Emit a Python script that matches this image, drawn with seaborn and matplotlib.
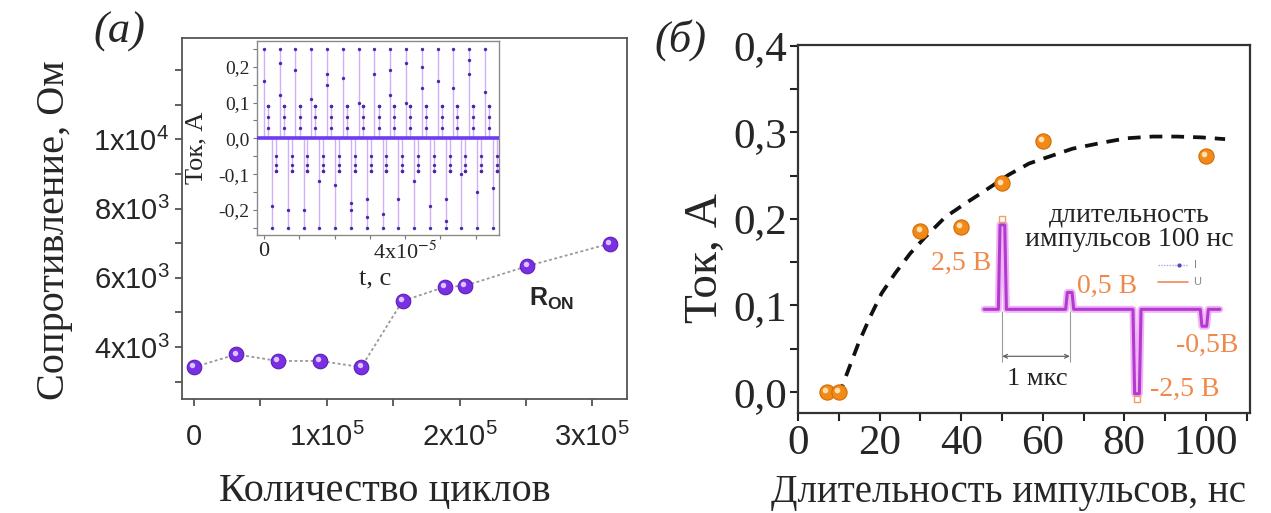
import matplotlib
matplotlib.use("Agg")
import matplotlib.pyplot as plt
import matplotlib.transforms as mtransforms
from matplotlib.ticker import FixedLocator, MultipleLocator
import pandas as pd
import seaborn as sns

# ---------------- panel (а): ON-state resistance vs. number of cycles
cycles = [0, 32000, 63000, 95000, 126000, 157000, 189000, 204000, 251000, 313000]
r_on = [3420, 3790, 3600, 3600, 3420, 5330, 5740, 5770, 6340, 6990]

a_xticks = [0, 1e5, 2e5, 3e5]
a_xticklabels = ["0", "1x10$^5$", "2x10$^5$", "3x10$^5$"]
a_yticks = [4e3, 6e3, 8e3, 1e4]
a_yticklabels = ["4x10$^3$", "6x10$^3$", "8x10$^3$", "1x10$^4$"]

# inset of (а): current response to the pulse trains
cycle_start_us = [0.0, 4.5, 8.9, 13.4, 17.9, 22.4, 26.8, 31.3, 35.8, 40.2,
                  44.7, 49.2, 53.6, 58.1, 62.6]
pulse_offset_us = [0.0, 1.15, 2.3, 3.4]          # +2,5 В, +0,5 В, -2,5 В, -0,5 В
pulse_peak_A = [0.25, 0.09, -0.25, -0.09]
set_mid_A = [[0.16], [0.21, 0.12], [0.19], [0.11], [0.18, 0.15], [0.17], [0.10],
             [0.18], [0.19, 0.12], [0.21, 0.10], [0.20, 0.14], [0.16], [0.14],
             [0.22, 0.18], [0.13]]
reset_mid_A = [[-0.19], [-0.20], [-0.20], [-0.12], [-0.13], [-0.18, -0.20],
               [-0.17, -0.22], [-0.21], [-0.17], [-0.12], [-0.19], [-0.17, -0.23],
               [-0.10], [-0.15], [-0.14]]
small_set_A = [0.09, 0.06, 0.03]
small_reset_A = [-0.05, -0.075, -0.09]
baseline_A = 0.0
inset_xticks = [0, 4e-5]
inset_xticklabels = ["0", "4x10$^{-5}$"]
inset_yticks = [-0.2, -0.1, 0.0, 0.1, 0.2]
inset_yticklabels = ["-0,2", "-0,1", "0,0", "0,1", "0,2"]

# ---------------- panel (б): current vs. pulse duration
pulse_ns = [7, 10, 30, 40, 50, 60, 100]
current_A = [0.0, 0.0, 0.186, 0.191, 0.241, 0.290, 0.273]
fit_ns = [9.9, 12.3, 14.8, 17.7, 20.5, 23.8, 27.5, 31.2, 36.1, 41.1, 46.0, 51.7,
          56.7, 67.3, 74.7, 80.5, 87.0, 92.8, 99.0, 104.7]
fit_A = [-0.005, 0.025, 0.056, 0.087, 0.114, 0.137, 0.160, 0.179, 0.202, 0.218,
         0.233, 0.251, 0.264, 0.281, 0.288, 0.293, 0.295, 0.295, 0.294, 0.292]
b_xticks = [0, 20, 40, 60, 80, 100]
b_yticks = [0.0, 0.1, 0.2, 0.3, 0.4]
b_yticklabels = ["0,0", "0,1", "0,2", "0,3", "0,4"]

# pulse program sketch
prog_t_us = [0.0, 1.0, 2.0, 3.0]
prog_V = [2.5, 0.5, -2.5, -0.5]
prog_labels = ["2,5 В", "0,5 В", "-2,5 В", "-0,5В"]
prog_label_pos = [(-0.62, 1.36), (1.56, 0.69), (2.71, -2.37), (3.05, -1.08)]

# ---------------- styling
sns.set_style("ticks")
plt.rcParams.update({
    "font.family": ["Liberation Serif", "DejaVu Serif"],
    "mathtext.fontset": "custom",
    "mathtext.rm": "Liberation Sans",
    "mathtext.it": "Liberation Sans:italic",
    "mathtext.bf": "Liberation Sans:bold",
    "axes.unicode_minus": False,
})
SANS = ["Liberation Sans", "DejaVu Sans"]
SERIF = ["Liberation Serif", "DejaVu Serif"]
PURPLE = "#7b2fe3"
ORANGE = "#f28a1a"
LABEL_ORANGE = "#f0884a"

fig = plt.figure(figsize=(12.71, 5.13), dpi=100)


def spheres(ax, x, y, base, edge, shine, s):
    sns.scatterplot(x=x, y=y, ax=ax, s=s, color=base, edgecolor=edge,
                    linewidth=0.8, zorder=5, legend=False)
    tr = mtransforms.offset_copy(ax.transData, fig=fig, x=-1.8, y=1.8, units="dots")
    ax.scatter(x, y, s=s * 0.14, color=shine, linewidth=0, zorder=6, transform=tr)


# ======================= panel (а)
ax_a = fig.add_axes([182 / 1271, 1 - 399 / 513, 445 / 1271, 361 / 513])
sns.lineplot(x=cycles, y=r_on, ax=ax_a, color="#9a9a9a", lw=1.3,
             linestyle=(0, (1.6, 1.4)), sort=False, estimator=None, zorder=3)
spheres(ax_a, cycles, r_on, PURPLE, "#5a1db8", "#d9c4ff", 110)
ax_a.set_xlim(-9000, 3.26e5)
ax_a.set_ylim(2500, 12930)
ax_a.xaxis.set_major_locator(FixedLocator(a_xticks))
ax_a.set_xticklabels(a_xticklabels)
ax_a.xaxis.set_minor_locator(MultipleLocator(5e4))
ax_a.yaxis.set_major_locator(FixedLocator(a_yticks))
ax_a.set_yticklabels(a_yticklabels)
ax_a.yaxis.set_minor_locator(MultipleLocator(1e3))
for lbl in ax_a.get_xticklabels() + ax_a.get_yticklabels():
    lbl.set_fontfamily(SANS)
    lbl.set_fontsize(21)
ax_a.tick_params(which="both", direction="out", length=5, width=1.2,
                 color="#444444")
ax_a.tick_params(axis="x", pad=12)
ax_a.tick_params(axis="y", pad=4)
for sp in ax_a.spines.values():
    sp.set_visible(True)
    sp.set_color("#555555")
    sp.set_linewidth(1.3)
ax_a.set_xlabel("Количество циклов", fontsize=29, family=SERIF)
ax_a.set_ylabel("Сопротивление, Ом", fontsize=29, family=SERIF)
ax_a.xaxis.set_label_coords(0.456, -0.205)
ax_a.yaxis.set_label_coords(-0.245, 0.468)
ax_a.text(2.69e5, 5400, r"$\mathbf{R}_{\mathbf{ON}}$", fontsize=18,
          ha="center", va="center")
fig.text(119 / 1271, 1 - 32 / 513, "(а)", fontsize=32, style="italic",
         family=SERIF, ha="center", va="center")

# ----- inset of (а)
ax_i = fig.add_axes([256.7 / 1271, 1 - 235 / 513, 242.3 / 1271, 194 / 513])
ax_i.set_facecolor("white")
rows = []
lines_t, lines_top = [], []
for k, t0 in enumerate(cycle_start_us):
    mids = [set_mid_A[k], small_set_A, reset_mid_A[k], small_reset_A]
    for off, peak, extra in zip(pulse_offset_us, pulse_peak_A, mids):
        t = (t0 + off) * 1e-6
        lines_t.append(t)
        lines_top.append(peak)
        rows.append((t, peak))
        rows.extend((t, v) for v in extra)
samples = pd.DataFrame(rows, columns=["t", "I"])
ax_i.vlines(lines_t, baseline_A, lines_top, color="#cdb2f7", lw=1.0, zorder=2)
ax_i.axhline(baseline_A, color="#6c3cf0", lw=2.6, zorder=3)
sns.scatterplot(data=samples, x="t", y="I", ax=ax_i, s=6, color="#4b2aa8",
                linewidth=0, zorder=4, legend=False)
ax_i.set_xlim(-0.21e-5, 6.66e-5)
ax_i.set_ylim(-0.27, 0.272)
ax_i.xaxis.set_major_locator(FixedLocator(inset_xticks))
ax_i.set_xticklabels(inset_xticklabels, math_fontfamily="stix")
ax_i.xaxis.set_minor_locator(MultipleLocator(1e-5))
ax_i.yaxis.set_major_locator(FixedLocator(inset_yticks))
ax_i.set_yticklabels(inset_yticklabels)
ax_i.yaxis.set_minor_locator(MultipleLocator(0.05))
for lbl in ax_i.get_xticklabels():
    lbl.set_fontsize(16)
for lbl in ax_i.get_yticklabels():
    lbl.set_fontsize(14)
ax_i.tick_params(which="both", direction="out", length=3, width=0.8,
                 color="#777777", pad=2)
for sp in ax_i.spines.values():
    sp.set_visible(True)
    sp.set_color("#8a8a8a")
    sp.set_linewidth(1.0)
ax_i.set_xlabel("t, с", fontsize=19)
ax_i.set_ylabel("Ток, А", fontsize=19)
ax_i.xaxis.set_label_coords(0.488, -0.175)
ax_i.yaxis.set_label_coords(-0.205, 0.448)

# ======================= panel (б)
ax_b = fig.add_axes([798 / 1271, 1 - 413 / 513, 452 / 1271, 368 / 513])
sns.lineplot(x=fit_ns, y=fit_A, ax=ax_b, color="#111111", lw=2.7,
             linestyle=(0, (3.4, 2.4)), sort=False, estimator=None, zorder=3)
spheres(ax_b, pulse_ns, current_A, ORANGE, "#d46c00", "#ffe0b0", 120)
ax_b.set_xlim(0, 110.8)
ax_b.set_ylim(-0.0242, 0.4007)
ax_b.xaxis.set_major_locator(FixedLocator(b_xticks))
ax_b.xaxis.set_minor_locator(MultipleLocator(10))
ax_b.yaxis.set_major_locator(FixedLocator(b_yticks))
ax_b.set_yticklabels(b_yticklabels)
ax_b.yaxis.set_minor_locator(MultipleLocator(0.05))
for lbl in ax_b.get_xticklabels() + ax_b.get_yticklabels():
    lbl.set_fontsize(31)
ax_b.tick_params(which="both", direction="out", length=6, width=1.5,
                 color="#222222", pad=2)
for sp in ax_b.spines.values():
    sp.set_visible(True)
    sp.set_color("#333333")
    sp.set_linewidth(1.6)
ax_b.set_xlabel("Длительность импульсов, нс", fontsize=28)
ax_b.set_ylabel("Ток, А", fontsize=34)
ax_b.xaxis.set_label_coords(0.465, -0.165)
ax_b.yaxis.set_label_coords(-0.158, 0.421)
fig.text(680 / 1271, 1 - 40 / 513, "(б)", fontsize=32, style="italic",
         ha="center", va="center")

# ----- pulse program sketch inside (б)
ax_s = ax_b.inset_axes([43.5, -0.0215, 64.35, 0.234], transform=ax_b.transData)
ax_s.set_xlim(-0.4, 3.5)
ax_s.set_ylim(-3.0, 3.0)
ax_s.axis("off")
wave_t, wave_v = [-0.27], [0.0]
for t, v in zip(prog_t_us, prog_V):
    wave_t += [t - 0.06, t - 0.035, t + 0.035, t + 0.06]
    wave_v += [0.0, v, v, 0.0]
wave_t.append(3.23)
wave_v.append(0.0)
ax_s.plot(wave_t, wave_v, color="#f0b4f2", lw=5.0, solid_joinstyle="round",
          clip_on=False)
ax_s.plot(wave_t, wave_v, color="#b23ad2", lw=2.2, solid_joinstyle="round",
          clip_on=False)
ax_s.scatter([prog_t_us[0], prog_t_us[2]], [prog_V[0] + 0.16, prog_V[2] - 0.16],
             marker="s", s=22, facecolor="white", edgecolor="#f0a060", lw=1.0,
             zorder=5, clip_on=False)
# 1 мкс scale bar between the first two pulses
ax_s.vlines(prog_t_us[:2], -1.55, -0.05, color="#9a9a9a", lw=0.8)
ax_s.annotate("", xy=(prog_t_us[1], -1.39), xytext=(prog_t_us[0], -1.39),
              arrowprops=dict(arrowstyle="<->", color="#555555", lw=0.8,
                              shrinkA=0, shrinkB=0, mutation_scale=7))
ax_s.text(0.52, -2.05, "1 мкс", fontsize=19, ha="center", va="center",
          color="#222222")
for lbl, (tx, ty) in zip(prog_labels, prog_label_pos):
    ax_s.text(tx, ty, lbl, fontsize=20, color=LABEL_ORANGE, ha="center",
              va="center")
ax_s.text(1.88, 2.80, "длительность", fontsize=20, ha="center", va="center",
          color="#222222")
ax_s.text(1.88, 2.07, "импульсов 100 нс", fontsize=20, ha="center", va="center",
          color="#222222")
# tiny legend
ax_s.plot([2.31, 2.76], [1.30, 1.30], color="#b9a0f0", lw=1.0, ls=(0, (1, 1)))
ax_s.scatter([2.62], [1.30], s=4, color="#6040c0", zorder=5)
ax_s.plot([2.31, 2.76], [0.80, 0.80], color="#f0875a", lw=1.2)
ax_s.text(2.84, 1.30, "I", fontsize=8, family=SANS, va="center", color="#888888")
ax_s.text(2.84, 0.80, "U", fontsize=8, family=SANS, va="center", color="#888888")

fig.savefig("out.png", dpi=100, facecolor="white")
